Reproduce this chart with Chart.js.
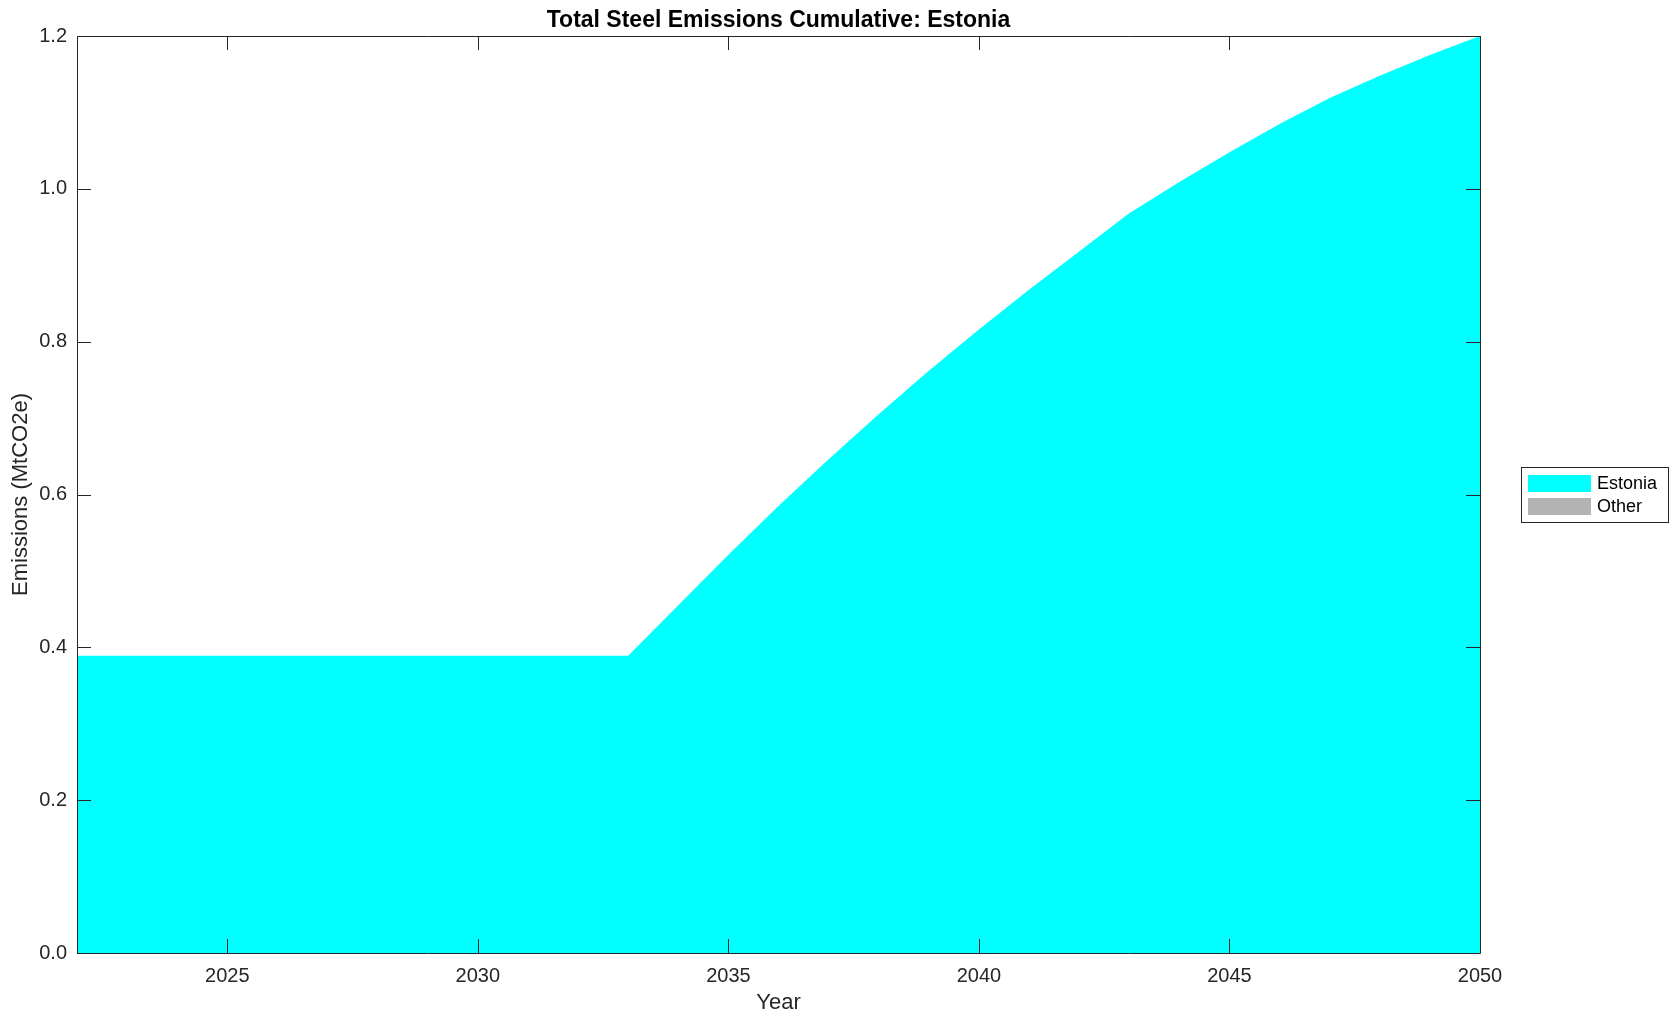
<!DOCTYPE html>
<html>
<head>
<meta charset="utf-8">
<script src="https://cdn.jsdelivr.net/npm/chart.js@4.4.1/dist/chart.umd.min.js"></script>
<style>
  html, body { margin: 0; padding: 0; background: #ffffff; }
  #wrap { width: 1679px; height: 1021px; position: relative; }
</style>
</head>
<body>
<div id="wrap"><canvas id="c" width="1679" height="1021"></canvas></div>
<script>
const years = [2022,2023,2024,2025,2026,2027,2028,2029,2030,2031,2032,2033,2034,2035,2036,2037,2038,2039,2040,2041,2042,2043,2044,2045,2046,2047,2048,2049,2050];
const estonia = [0.389,0.389,0.389,0.389,0.389,0.389,0.389,0.389,0.389,0.389,0.389,0.389,0.455,0.521,0.585,0.646,0.705,0.762,0.816,0.868,0.918,0.968,1.009,1.048,1.085,1.119,1.148,1.175,1.200];
const other = [0,0,0,0,0,0,0,0,0,0,0,0,0,0,0,0,0,0,0,0,0,0,0,0,0,0,0,0,0];
const xTicks = [2025,2030,2035,2040,2045,2050];
const yTicks = [0,0.2,0.4,0.6,0.8,1.0,1.2];
const seriesNames = ['Estonia','Other'];
const seriesColors = ['#00ffff','#b3b3b3'];
const titleText = 'Total Steel Emissions Cumulative: Estonia';

const FONT = "'Liberation Sans', Arial, Helvetica, sans-serif";
const TEXT = '#262626';

const framePlugin = {
  id: 'frame',
  afterDraw(chart) {
    const ctx = chart.ctx;
    const a = chart.chartArea;
    const xs = chart.scales.x, ys = chart.scales.y;
    ctx.save();
    ctx.strokeStyle = TEXT;
    ctx.lineWidth = 1;
    ctx.beginPath();
    ctx.rect(Math.round(a.left) + 0.5, Math.round(a.top) + 0.5, Math.round(a.right - a.left), Math.round(a.bottom - a.top));
    ctx.stroke();
    const tl = 14;
    ctx.beginPath();
    xs.ticks.forEach(t => {
      const px = Math.round(xs.getPixelForValue(t.value)) + 0.5;
      ctx.moveTo(px, a.bottom); ctx.lineTo(px, a.bottom - tl);
      ctx.moveTo(px, a.top); ctx.lineTo(px, a.top + tl);
    });
    ys.ticks.forEach(t => {
      const py = Math.round(ys.getPixelForValue(t.value)) + 0.5;
      ctx.moveTo(a.left, py); ctx.lineTo(a.left + tl, py);
      ctx.moveTo(a.right, py); ctx.lineTo(a.right - tl, py);
    });
    ctx.stroke();

    // title
    ctx.fillStyle = '#000000';
    ctx.font = "bold 23px " + FONT;
    ctx.textAlign = 'center';
    ctx.textBaseline = 'middle';
    ctx.fillText(titleText, (a.left + a.right) / 2, 21);

    // legend
    const lx = 1521, ly = 467, lw = 147, lh = 55;
    ctx.fillStyle = '#ffffff';
    ctx.fillRect(lx, ly, lw, lh);
    ctx.strokeStyle = TEXT;
    ctx.strokeRect(lx + 0.5, ly + 0.5, lw, lh);
    ctx.font = "18px " + FONT;
    ctx.textAlign = 'left';
    chart.data.datasets.forEach((ds, i) => {
      const cy = 483 + i * 23;
      ctx.fillStyle = ds.backgroundColor;
      ctx.fillRect(1528, cy - 8, 63, 17);
      ctx.fillStyle = '#000000';
      ctx.fillText(ds.label, 1597, cy + 1);
    });
    ctx.restore();
  }
};

new Chart(document.getElementById('c'), {
  type: 'line',
  data: {
    datasets: seriesNames.map((name, i) => ({
      label: name,
      data: years.map((yr, j) => ({ x: yr, y: (i === 0 ? estonia : other)[j] })),
      backgroundColor: seriesColors[i],
      borderColor: seriesColors[i],
      borderWidth: 0,
      pointRadius: 0,
      tension: 0,
      fill: i === 0 ? 'origin' : '-1'
    }))
  },
  options: {
    responsive: false,
    animation: false,
    devicePixelRatio: 1,
    layout: { padding: { left: 0, top: 36, right: 199, bottom: 0 } },
    plugins: { legend: { display: false }, title: { display: false }, tooltip: { enabled: false } },
    scales: {
      x: {
        type: 'linear',
        min: 2022, max: 2050,
        grid: { display: false, drawTicks: false },
        border: { display: false },
        afterBuildTicks(s) { s.ticks = xTicks.map(v => ({ value: v })); },
        afterFit(s) { s.height = 68; },
        ticks: { color: TEXT, font: { family: FONT, size: 20 }, padding: 11, maxRotation: 0, autoSkip: false, callback: v => String(v) },
        title: { display: true, text: 'Year', color: TEXT, font: { family: FONT, size: 22 }, padding: { top: 0, bottom: 5 } }
      },
      y: {
        stacked: true,
        min: 0, max: 1.2,
        grid: { display: false, drawTicks: false },
        border: { display: false },
        afterBuildTicks(s) { s.ticks = yTicks.map(v => ({ value: v })); },
        afterFit(s) { s.width = 77; },
        ticks: { color: TEXT, font: { family: FONT, size: 20 }, padding: 10, autoSkip: false, callback: v => Number(v).toFixed(1) },
        title: { display: true, text: 'Emissions (MtCO2e)', color: TEXT, font: { family: FONT, size: 22 }, padding: { top: 8, bottom: 0 } }
      }
    }
  },
  plugins: [framePlugin]
});
</script>
</body>
</html>
